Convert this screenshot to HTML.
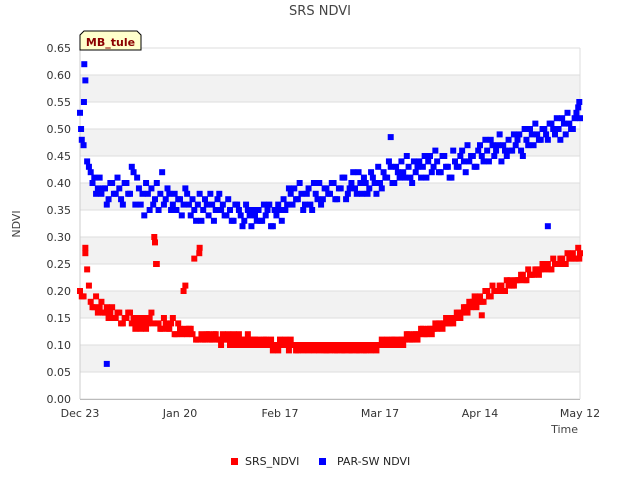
<!DOCTYPE html>
<html><head><meta charset="utf-8"><style>
body{margin:0;background:#fff;width:640px;height:480px;overflow:hidden;font-family:"Liberation Sans","DejaVu Sans",sans-serif}
</style></head><body>
<svg id="chart" width="640" height="480" xmlns="http://www.w3.org/2000/svg" font-family="DejaVu Sans, Liberation Sans, sans-serif">
<rect width="640" height="480" fill="#fff"/>
<text x="320" y="15" text-anchor="middle" font-size="13" fill="#444">SRS NDVI</text>
<g id="bands"></g>
<g id="yaxis"></g>
<g id="xaxis"></g>
<g id="marks"></g>
<text transform="translate(20,224) rotate(-90)" text-anchor="middle" font-size="11" fill="#444">NDVI</text>
<text x="578" y="433" text-anchor="end" font-size="11" fill="#444">Time</text>
<g>
<path d="M84,31 L137,31 L141,35 L141,50 L80,50 L80,35 Z" fill="#ffffcc" stroke="#000" stroke-width="1"/>
<text x="110.5" y="46" text-anchor="middle" font-size="11" font-weight="bold" fill="#8b0000">MB_tule</text>
</g>
<g>
<g><rect x="231" y="458" width="7" height="7" fill="#f00"/><text x="245" y="465" font-size="11" fill="#222">SRS_NDVI</text></g>
<g><rect x="319" y="458" width="7" height="7" fill="#00f"/><text x="337" y="465" font-size="11" fill="#222">PAR-SW NDVI</text></g>
</g>
</svg>
<script>
const xTicks=[0,28,56,84,112,140];
const xTickLabels=["Dec 23","Jan 20","Feb 17","Mar 17","Apr 14","May 12"];
const yTicks=[0,.05,.1,.15,.2,.25,.3,.35,.4,.45,.5,.55,.6,.65];
const parAM=[.53,.47,.44,.42,.41,.39,.38,.39,.37,.40,.38,.39,.36,.40,.38,.42,.41,.36,.34,.38,.39,.37,.35,.42,.37,.38,.36,.35,.37,.36,.38,.34,.35,.36,.33,.37,.34,.36,.35,.38,.36,.34,.35,.33,.36,.34,.33,.35,.32,.34,.35,.33,.34,.36,.32,.34,.35,.37,.36,.38,.39,.37,.38,.36,.39,.35,.38,.40,.37,.39,.38,.40,.37,.39,.41,.38,.40,.39,.42,.38,.40,.39,.41,.38,.40,.42,.41,.43,.40,.42,.44,.41,.43,.40,.42,.44,.43,.41,.45,.43,.44,.42,.45,.43,.41,.44,.43,.46,.42,.44,.45,.43,.47,.44,.46,.48,.45,.47,.44,.46,.48,.46,.47,.49,.45,.48,.50,.47,.49,.48,.50,.48,.51,.49,.50,.52,.49,.51,.50,.53,.52];
const parPM=[.48,.59,.43,.40,.38,.41,.39,.36,.40,.38,.41,.37,.40,.38,.43,.36,.39,.38,.40,.35,.36,.40,.38,.36,.39,.35,.38,.37,.34,.39,.36,.37,.33,.38,.35,.36,.38,.33,.37,.35,.34,.37,.33,.36,.35,.32,.36,.34,.35,.33,.33,.36,.35,.32,.35,.36,.33,.35,.39,.36,.37,.40,.35,.38,.36,.40,.37,.36,.39,.38,.40,.37,.39,.41,.37,.39,.42,.38,.40,.41,.38,.42,.40,.43,.39,.41,.44,.40,.43,.41,.42,.45,.41,.44,.43,.41,.45,.44,.42,.46,.42,.45,.43,.41,.46,.43,.45,.44,.47,.45,.43,.46,.45,.48,.44,.47,.46,.49,.47,.45,.46,.49,.48,.46,.50,.47,.49,.51,.48,.50,.49,.51,.50,.52,.48,.51,.53,.50,.52,.54,.55];
const srsAM=[.20,.19,.24,.18,.17,.16,.18,.16,.15,.17,.15,.16,.14,.15,.16,.15,.14,.13,.15,.14,.16,.29,.14,.13,.14,.13,.15,.12,.13,.20,.12,.13,.26,.11,.12,.11,.12,.11,.12,.11,.12,.11,.10,.12,.11,.10,.11,.12,.10,.11,.11,.10,.11,.10,.09,.10,.11,.10,.10,.11,.10,.09,.10,.10,.09,.10,.10,.09,.10,.09,.09,.10,.09,.10,.09,.10,.09,.10,.09,.10,.09,.10,.10,.09,.10,.10,.11,.10,.11,.10,.11,.11,.12,.11,.12,.12,.13,.12,.13,.13,.13,.14,.14,.14,.15,.15,.16,.16,.17,.18,.18,.17,.19,.18,.20,.19,.20,.20,.21,.20,.21,.21,.22,.22,.23,.22,.23,.23,.24,.24,.24,.25,.24,.25,.25,.26,.25,.26,.27,.26,.27];
const srsPM=[.19,.27,.21,.17,.19,.17,.16,.17,.16,.15,.16,.14,.15,.16,.14,.13,.15,.14,.13,.15,.14,.25,.13,.15,.13,.14,.12,.14,.12,.13,.13,.12,.11,.28,.11,.12,.11,.12,.11,.10,.11,.12,.11,.10,.12,.11,.10,.11,.11,.10,.10,.11,.10,.11,.10,.09,.10,.11,.09,.10,.09,.10,.09,.10,.10,.09,.10,.10,.09,.10,.10,.09,.10,.09,.10,.09,.10,.09,.10,.09,.10,.09,.10,.10,.11,.10,.10,.11,.10,.11,.10,.12,.11,.12,.11,.13,.12,.13,.12,.14,.14,.13,.15,.14,.14,.16,.15,.17,.16,.17,.19,.18,.18,.20,.19,.21,.20,.21,.20,.22,.22,.21,.22,.23,.22,.24,.23,.24,.23,.25,.25,.24,.26,.25,.26,.25,.27,.26,.26,.28,.26];
const parOutDays=[0.3,1.2,1.1,7.5,87,131];
const parOutVals=[.50,.62,.55,.065,.485,.32];
const srsOutDays=[1.5,20.8,21.3,29.5,33.4,112.5];
const srsOutVals=[.28,.30,.25,.21,.27,.155];
const X0=80,X1=580,Y0=399,Y1=48;
const xs=d=>X0+(d-0)/(140-0)*(X1-X0);
const ys=v=>Y0-(v-0)/(0.65-0)*(Y0-Y1);
const NS="http://www.w3.org/2000/svg";
function mk(t,a,p){const e=document.createElementNS(NS,t);for(const k in a)e.setAttribute(k,a[k]);p.appendChild(e);return e;}
const bands=document.getElementById('bands');
for(let i=0;i<yTicks.length-1;i++){
  if(i%2===1){const r=mk('rect',{x:X0,y:ys(yTicks[i+1]),width:X1-X0,height:ys(yTicks[i])-ys(yTicks[i+1]),fill:'#f2f2f2'},bands);
  
  }
}
const ya=document.getElementById('yaxis');
yTicks.forEach(v=>{
  const l=mk('line',{x1:X0,x2:X1,y1:ys(v),y2:ys(v),stroke:'#ddd','stroke-width':1},ya);
  
  
  const t=mk('text',{x:X0-9,y:ys(v)+4,'text-anchor':'end','font-size':11,fill:'#333'},ya);
  
  
  t.textContent=v.toFixed(2);
});
mk('line',{x1:X0,x2:X0,y1:Y1,y2:Y0,stroke:'#ccc'},ya);
mk('line',{x1:X1,x2:X1,y1:Y1,y2:Y0,stroke:'#ddd'},ya);
const xa=document.getElementById('xaxis');
mk('line',{x1:X0,x2:X1,y1:Y0+.5,y2:Y0+.5,stroke:'#bbb'},xa);
xTicks.forEach((d,i)=>{
  const t=mk('text',{x:xs(d),y:Y0+18,'text-anchor':'middle','font-size':11,fill:'#333'},xa);
  
  
  t.textContent=xTickLabels[i];
});
const g=document.getElementById('marks');
function pt(d,v,c){const r=mk('rect',{x:xs(d)-3,y:ys(v)-3,width:6,height:6,fill:c},g);
  
  }
srsAM.forEach((v,i)=>pt(i,v,'#f00'));
srsPM.forEach((v,i)=>{if(i<140)pt(i+0.5,v,'#f00');else pt(139.8,v,'#f00');});
srsOutDays.forEach((d,i)=>pt(d,srsOutVals[i],'#f00'));
parAM.forEach((v,i)=>pt(i,v,'#00f'));
parPM.forEach((v,i)=>{if(i<140)pt(i+0.5,v,'#00f');else pt(139.8,v,'#00f');});
parOutDays.forEach((d,i)=>pt(d,parOutVals[i],'#00f'));
</script>
</body></html>
